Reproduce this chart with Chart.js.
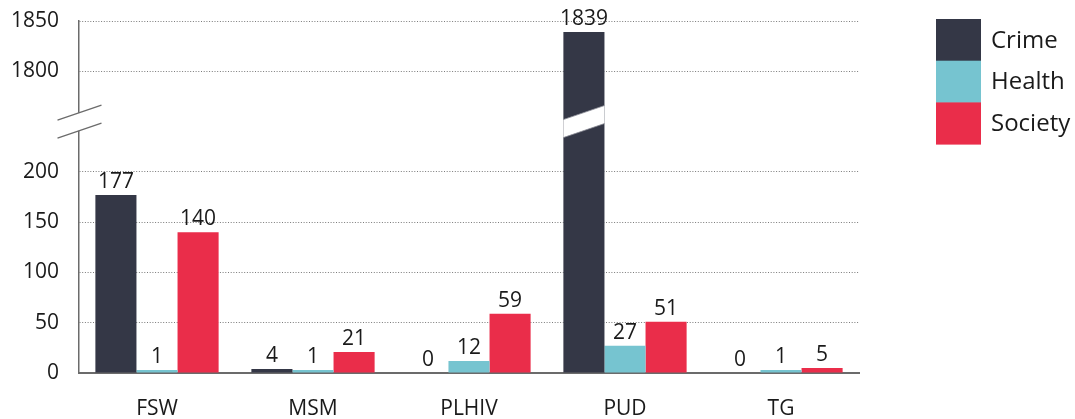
<!DOCTYPE html>
<html>
<head>
<meta charset="utf-8">
<script src="https://cdn.jsdelivr.net/npm/chart.js@4/dist/chart.umd.min.js"></script>
<style>
html,body{margin:0;padding:0;background:#fff;}
#wrap{width:1075px;height:419px;position:relative;}
</style>
</head>
<body>
<div id="wrap"><canvas id="c" width="1075" height="419"></canvas></div>
<script>
// ---- data ----
const categories = ['FSW', 'MSM', 'PLHIV', 'PUD', 'TG'];
const crime   = [177, 4, 0, 1839, 0];
const health  = [1, 1, 12, 27, 1];
const society = [140, 21, 59, 51, 5];
const seriesNames = ['Crime', 'Health', 'Society'];
const tickValues = [0, 50, 100, 150, 200, 1800, 1850];

// broken axis: 0..200 shown as is, 1800..1850 shown right above a gap
const BREAK_LOW = 200, BREAK_HIGH = 1800, GAP = 100;
function toAxis(v) { return v <= BREAK_LOW ? v : v - BREAK_HIGH + BREAK_LOW + GAP; }
function fromAxis(a) { return a <= BREAK_LOW ? a : a - BREAK_LOW - GAP + BREAK_HIGH; }

const colors = ['#343746', '#76c4d0', '#ea2d4a'];
const FONT = "'Open Sans', 'DejaVu Sans', sans-serif";
const TEXT = '#1a1a1a';

const seriesValues = [crime, health, society];
const datasets = seriesNames.map((name, i) => ({
  label: name,
  data: seriesValues[i].map(toAxis),
  rawValues: seriesValues[i],
  backgroundColor: colors[i],
  borderWidth: 0,
  categoryPercentage: 0.79,
  barPercentage: 1.0,
  minBarLength: name === 'Health' ? 3 : 0
}));

const breakPlugin = {
  id: 'breaks',
  afterDatasetsDraw(chart) {
    const ctx = chart.ctx;
    const y = chart.scales.y;
    const mid = y.getPixelForValue(BREAK_LOW + GAP / 2);
    const half = 9;
    const slope = -15 / 44;
    function gap(x0, x1, strokeLines, lw) {
      const cx = (x0 + x1) / 2;
      const yAt = (x, off) => mid + off + (x - cx) * slope;
      ctx.save();
      ctx.beginPath();
      ctx.moveTo(x0, yAt(x0, -half));
      ctx.lineTo(x1, yAt(x1, -half));
      ctx.lineTo(x1, yAt(x1, half));
      ctx.lineTo(x0, yAt(x0, half));
      ctx.closePath();
      ctx.fillStyle = '#ffffff';
      ctx.fill();
      ctx.strokeStyle = strokeLines;
      ctx.lineWidth = lw;
      ctx.beginPath();
      ctx.moveTo(x0, yAt(x0, -half)); ctx.lineTo(x1, yAt(x1, -half));
      ctx.moveTo(x0, yAt(x0, half)); ctx.lineTo(x1, yAt(x1, half));
      ctx.stroke();
      ctx.restore();
    }
    // axis break
    const ax = chart.chartArea.left;
    gap(ax - 21.5, ax + 22.5, '#6b6b6b', 1.3);
    // bars crossing the break
    chart.data.datasets.forEach((ds, di) => {
      const meta = chart.getDatasetMeta(di);
      meta.data.forEach((el, i) => {
        if (ds.rawValues[i] > BREAK_LOW) {
          const w = el.width;
          gap(el.x - w / 2, el.x + w / 2, '#8a8c96', 0.8);
        }
      });
    });
    // value labels
    ctx.save();
    ctx.font = '21px ' + FONT;
    ctx.fillStyle = TEXT;
    ctx.textAlign = 'center';
    ctx.textBaseline = 'alphabetic';
    chart.data.datasets.forEach((ds, di) => {
      const meta = chart.getDatasetMeta(di);
      meta.data.forEach((el, i) => {
        const v = ds.rawValues[i];
        const top = Math.min(el.y, el.base);
        const yTop = v === 0 ? el.base : top;
        ctx.fillText(String(v), el.x, yTop - 7);
      });
    });
    ctx.restore();
  },
  afterDraw(chart) {
    // legend
    const ctx = chart.ctx;
    const x0 = 936, bw = 45, bh = 41.7, top = 19;
    ctx.save();
    ctx.font = '24px ' + FONT;
    ctx.textBaseline = 'middle';
    ctx.textAlign = 'left';
    chart.data.datasets.forEach((ds, i) => {
      const yy = top + i * bh;
      ctx.fillStyle = ds.backgroundColor;
      ctx.fillRect(x0, yy, bw, bh + 0.5);
      ctx.fillStyle = TEXT;
      ctx.fillText(ds.label, 991, yy + bh / 2 + 1);
    });
    ctx.restore();
  }
};

new Chart(document.getElementById('c'), {
  type: 'bar',
  data: { labels: categories, datasets },
  plugins: [breakPlugin],
  options: {
    responsive: false,
    animation: false,
    devicePixelRatio: 1,
    layout: { padding: { left: 0, right: 216, top: 21, bottom: 0 } },
    plugins: { legend: { display: false }, tooltip: { enabled: false } },
    scales: {
      x: {
        offset: true,
        grid: { display: false, drawTicks: false },
        border: { display: true, color: '#6b6b6b', width: 2 },
        ticks: { color: TEXT, font: { family: FONT, size: 21 }, padding: 23 },
        afterFit(s) { s.height = 46; s.paddingLeft = 0; s.paddingRight = 0; }
      },
      y: {
        min: 0,
        max: toAxis(1850),
        afterBuildTicks(s) { s.ticks = tickValues.map(v => ({ value: toAxis(v) })); },
        grid: { color: '#7a7a7a', lineWidth: 1, drawTicks: false },
        border: { display: true, color: '#6b6b6b', width: 1.5, dash: [1, 1.7] },
        ticks: {
          color: TEXT, font: { family: FONT, size: 21 }, padding: 20,
          callback: (v) => String(fromAxis(v))
        },
        afterFit(s) { s.width = 79; s.paddingTop = 0; s.paddingBottom = 0; }
      }
    }
  }
});
</script>
</body>
</html>
